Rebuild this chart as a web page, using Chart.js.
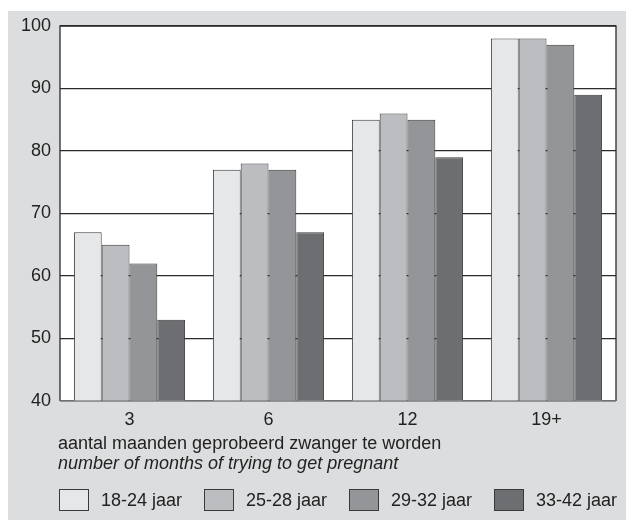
<!DOCTYPE html>
<html>
<head>
<meta charset="utf-8">
<script src="https://cdn.jsdelivr.net/npm/chart.js@4/dist/chart.umd.min.js"></script>
<style>
  html, body { margin: 0; padding: 0; background: #ffffff; }
  #wrap { width: 626px; height: 521px; }
</style>
</head>
<body>
<div id="wrap"><canvas id="myChart" width="626" height="521"></canvas></div>
<script>
// data
const categories = ["3", "6", "12", "19+"];
const seriesNames = ["18-24 jaar", "25-28 jaar", "29-32 jaar", "33-42 jaar"];
const age18to24 = [67, 77, 85, 98];
const age25to28 = [65, 78, 86, 98];
const age29to32 = [62, 77, 85, 97];
const age33to42 = [53, 67, 79, 89];
const yTicks = [40, 50, 60, 70, 80, 90, 100];
const captionLines = [
    "aantal maanden geprobeerd zwanger te worden",
    "number of months of trying to get pregnant"
];

const fills = ['#e6e7e8', '#bcbdc0', '#939598', '#6d6e71'];
const fontFamily = "'Liberation Sans', Arial, Helvetica, sans-serif";

// gray panel + white plot area + frame
const panelBg = {
    id: 'panelBg',
    beforeDraw(chart) {
        const c = chart.ctx;
        const a = chart.chartArea;
        c.save();
        c.fillStyle = '#dcddde';
        c.fillRect(8, 11, 618, 509);
        c.fillStyle = '#ffffff';
        c.fillRect(a.left, a.top, a.right - a.left, a.bottom - a.top);
        c.restore();
    },
    afterDatasetsDraw(chart) {
        const c = chart.ctx;
        const a = chart.chartArea;
        c.save();
        c.strokeStyle = '#2b2b2b';
        c.lineWidth = 1.3;
        c.beginPath();
        c.moveTo(a.left, a.bottom);
        c.lineTo(a.left, a.top);
        c.lineTo(a.right, a.top);
        c.lineTo(a.right, a.bottom);
        c.stroke();
        c.strokeStyle = '#8a8a8a';
        c.beginPath();
        c.moveTo(a.left, a.bottom);
        c.lineTo(a.right, a.bottom);
        c.stroke();
        c.restore();
    }
};

// two-line axis caption (second line italic) and the legend row
const caption = {
    id: 'caption',
    afterDraw(chart) {
        const c = chart.ctx;
        const b = chart.chartArea.bottom;
        c.save();
        c.fillStyle = '#222222';
        c.textAlign = 'left';
        c.textBaseline = 'alphabetic';
        c.font = '18px ' + fontFamily;
        c.fillText(captionLines[0], 58, b + 48);
        c.font = 'italic 18px ' + fontFamily;
        c.fillText(captionLines[1], 58, b + 68);

        // legend
        c.font = '18px ' + fontFamily;
        c.textBaseline = 'middle';
        const top = b + 88;
        chart.data.datasets.forEach((ds, i) => {
            const x = 59 + i * 145;
            c.fillStyle = ds.backgroundColor;
            c.fillRect(x, top, 30, 22);
            c.strokeStyle = ds.borderColor;
            c.lineWidth = 1;
            c.strokeRect(x + 0.5, top + 0.5, 29, 21);
            c.fillStyle = '#222222';
            c.fillText(ds.label, x + 42, top + 12);
        });
        c.restore();
    }
};

const seriesData = [age18to24, age25to28, age29to32, age33to42];

const ctx = document.getElementById('myChart').getContext('2d');
const myChart = new Chart(ctx, {
    type: 'bar',
    data: {
        labels: categories,
        datasets: seriesNames.map((name, i) => ({
            label: name,
            data: seriesData[i],
            backgroundColor: fills[i],
            borderColor: '#3a3a3a',
            borderWidth: 1,
            borderSkipped: 'bottom',
            categoryPercentage: 0.8,
            barPercentage: 1.0
        }))
    },
    options: {
        responsive: false,
        animation: false,
        layout: {
            padding: { left: 8, top: 26, right: 10, bottom: 57 }
        },
        plugins: {
            tooltip: { enabled: false },
            legend: { display: false }
        },
        scales: {
            x: {
                grid: { display: false, drawTicks: false },
                border: { display: false },
                ticks: {
                    color: '#222222',
                    padding: 8,
                    font: { family: fontFamily, size: 18 }
                },
                afterFit(scale) { scale.height = 63; }
            },
            y: {
                min: 40,
                max: 100,
                afterBuildTicks(scale) {
                    scale.ticks = yTicks.map(v => ({ value: v }));
                },
                grid: { color: '#2b2b2b', lineWidth: 1.3, drawTicks: false },
                border: { display: false },
                ticks: {
                    color: '#222222',
                    padding: 9,
                    font: { family: fontFamily, size: 18 }
                },
                afterFit(scale) { scale.width = 52; }
            }
        }
    },
    plugins: [panelBg, caption]
});
</script>
</body>
</html>
